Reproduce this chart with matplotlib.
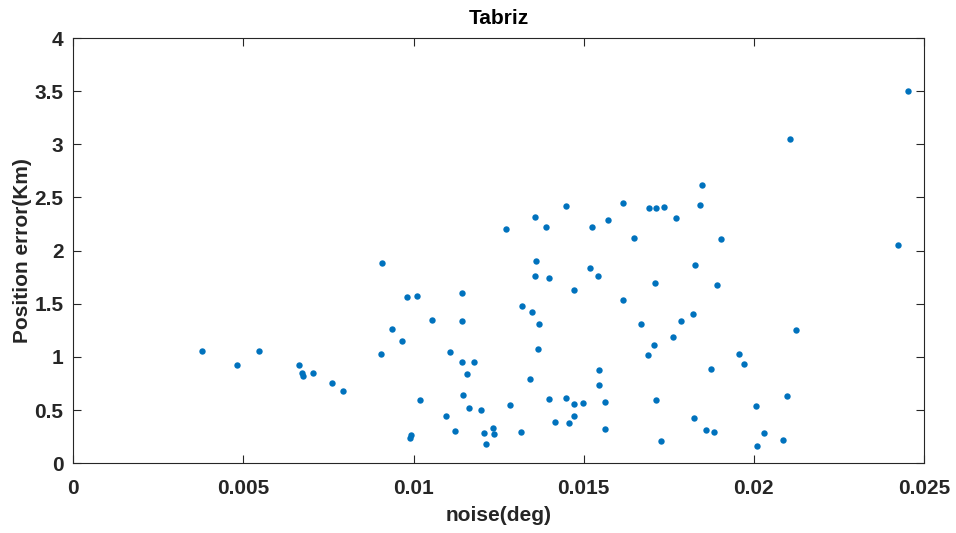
import matplotlib.pyplot as plt
import numpy as np

plt.rcParams['font.family'] = ['Liberation Sans', 'DejaVu Sans']

# values
noise = [
    0.00379, 0.00482, 0.00547, 0.00664, 0.00671, 0.00674, 0.00703, 0.00760, 0.00793,
    0.01448, 0.01357, 0.01271, 0.01389, 0.00907, 0.01359, 0.01358, 0.01398,
    0.00982, 0.01011, 0.01141, 0.01318, 0.01348, 0.01369,
    0.01055, 0.01142, 0.00938, 0.00967, 0.00905, 0.01106, 0.01367, 0.01141,
    0.01179, 0.01157, 0.01341, 0.01145, 0.01019, 0.01397, 0.01448, 0.01163,
    0.01199, 0.01284, 0.01094, 0.01416, 0.01457, 0.01123, 0.01234, 0.01207,
    0.01237, 0.01317, 0.00991, 0.00989, 0.01212,
    0.01847, 0.01615, 0.01691, 0.01712, 0.01737, 0.01842, 0.01771, 0.01523,
    0.01571, 0.01649, 0.01903, 0.01519, 0.01543, 0.01826, 0.01710, 0.01893,
    0.01471, 0.01615, 0.01668, 0.01787, 0.01822,
    0.01763, 0.01706, 0.01689, 0.01873, 0.01955, 0.01970, 0.01545, 0.01544,
    0.01471, 0.01498, 0.01563, 0.01471, 0.01563, 0.01711, 0.01726, 0.01823,
    0.01859, 0.01882, 0.02006, 0.02031, 0.02010,
    0.02452, 0.02106, 0.02423, 0.02125, 0.02098, 0.02087,
]
pos_err = [
    1.055, 0.927, 1.055, 0.927, 0.846, 0.818, 0.852, 0.758, 0.677,
    2.418, 2.312, 2.202, 2.227, 1.883, 1.898, 1.760, 1.745,
    1.566, 1.572, 1.598, 1.476, 1.422, 1.306,
    1.344, 1.337, 1.265, 1.152, 1.024, 1.043, 1.071, 0.955,
    0.955, 0.842, 0.792, 0.645, 0.598, 0.604, 0.617, 0.520,
    0.504, 0.548, 0.445, 0.385, 0.376, 0.306, 0.332, 0.285,
    0.272, 0.294, 0.266, 0.238, 0.184,
    2.616, 2.444, 2.402, 2.397, 2.406, 2.428, 2.308, 2.221,
    2.290, 2.115, 2.105, 1.833, 1.760, 1.867, 1.692, 1.673,
    1.626, 1.535, 1.309, 1.335, 1.400,
    1.190, 1.112, 1.018, 0.883, 1.027, 0.936, 0.874, 0.736,
    0.554, 0.567, 0.579, 0.445, 0.325, 0.598, 0.213, 0.426,
    0.313, 0.291, 0.541, 0.282, 0.165,
    3.506, 3.048, 2.049, 1.256, 0.630, 0.222,
]

x_ticks = [0, 0.005, 0.01, 0.015, 0.02, 0.025]
x_labels = ['0', '0.005', '0.01', '0.015', '0.02', '0.025']
y_ticks = [0, 0.5, 1, 1.5, 2, 2.5, 3, 3.5, 4]
y_labels = ['0', '0.5', '1', '1.5', '2', '2.5', '3', '3.5', '4']

fig = plt.figure(figsize=(9.56, 5.33), dpi=100)
ax = fig.add_axes([0.0767, 0.1308, 0.8898, 0.7979])

ax.plot(noise, pos_err, 'o', color='#0072BD', markersize=4.6, markeredgewidth=0)

ax.set_xlim(0, 0.025)
ax.set_ylim(0, 4)
ax.set_xticks(x_ticks)
ax.set_xticklabels(x_labels)
ax.set_yticks(y_ticks)
ax.set_yticklabels(y_labels)

dark = '#262626'
for s in ax.spines.values():
    s.set_color(dark)
    s.set_linewidth(0.8)
ax.tick_params(direction='in', length=6, width=0.8, color=dark,
               top=True, right=True, labelsize=15, labelcolor=dark)
ax.tick_params(axis='x', pad=11)
ax.tick_params(axis='y', pad=7)
for lbl in ax.get_xticklabels() + ax.get_yticklabels():
    lbl.set_fontweight('bold')

ax.set_title('Tabriz', fontsize=15, fontweight='bold', color='black', pad=10)
ax.set_xlabel('noise(deg)', fontsize=15, fontweight='bold', color=dark, labelpad=6)
ax.set_ylabel('Position error(Km)', fontsize=15, fontweight='bold', color=dark, labelpad=2)

fig.savefig('out.png', dpi=100)
